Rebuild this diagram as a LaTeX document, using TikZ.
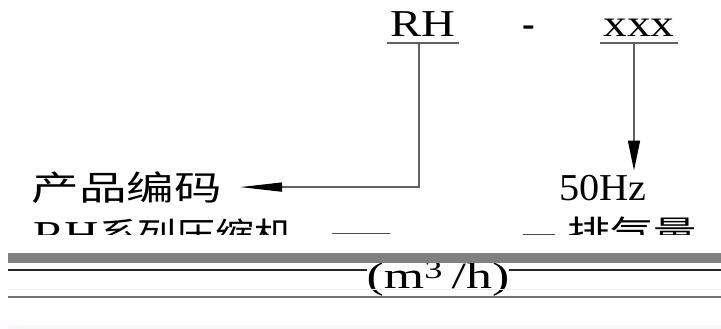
\documentclass[tikz,border=0pt]{standalone}
\usepackage{fontspec}
\setmainfont{Liberation Serif}
\newfontfamily\cjk{Noto Sans CJK SC}
\usepackage{graphicx}
\usetikzlibrary{arrows.meta}
\newcommand{\wide}[2]{\scalebox{#1}[1]{#2}}

\begin{document}
\begin{tikzpicture}[x=1pt,y=-1pt,
	lbl/.style={inner sep=0pt,font=\fontsize{38}{40}\selectfont},
	han/.style={inner sep=0pt,font=\fontsize{34}{36}\selectfont\cjk},
	conn/.style={draw=black!62,line width=1.4pt},
	]
	\useasboundingbox (0,0) rectangle (721,329);
	
	\node (rh) [lbl,anchor=base,minimum width=72pt,text depth=6pt] at (423,37) {\wide{1.23}{RH}};
	\node (dash) [lbl,anchor=base] at (529,37) {\textbf{-}};
	\node (xxx) [lbl,anchor=base,minimum width=78pt,text depth=6pt] at (639,37) {\wide{1.25}{xxx}};
	\draw [conn] (rh.south west) -- (rh.south east);
	\draw [conn] (xxx.south west) -- (xxx.south east);
	
	\node (code) [han,anchor=base east,inner xsep=18pt] at (240,200) {\wide{1.4}{产品编码}};
	\node (hz) [lbl,anchor=base,inner ysep=4pt] at (603,200) {\wide{1.06}{50Hz}};
	\coordinate (drop) at ([xshift=-5pt]xxx.south);
	
	\draw [conn,-{Triangle[length=42pt,width=9pt,color=black]}] ([xshift=-4pt]rh.south) |- (code.east);
	\draw [conn,-{Triangle[length=30pt,width=12pt,color=black]}] (drop) -- (drop |- hz.north);
	
	\begin{scope}
		\clip (0,205) rectangle (721,234);
		\node (series) [lbl,anchor=base west] at (33,247) {\wide{1.25}{RH}{\cjk\fontsize{34}{36}\selectfont\wide{1.14}{系列压缩机}}};
		\node (flow) [han,anchor=base west] at (567,245) {\wide{1.27}{排气量}};
	\end{scope}
	\draw [black!70,line width=1pt] (332,233) -- (390,233);
	\draw [black!70,line width=1pt] (523,234) -- (555,234);
	
	\node (unit) [lbl,anchor=base,font=\fontsize{37}{39}\selectfont] at (438,288) {\wide{1.4}{(m\textsuperscript{3}\,/h)}};
	\fill [black!50] (8,252.5) rectangle (721,263);
	\coordinate (l1) at (8,270);
	\coordinate (r1) at (721,270);
	\draw [black!85,line width=1.2pt] (l1) -- (l1 -| unit.west) (unit.east |- r1) -- (r1);
	\draw [black!7,line width=1pt] (8,289) -- (721,289);
	\draw [black!55,line width=2pt] (8,297) -- (721,297);
	\fill [violet!4] (8,325) rectangle (721,329);
\end{tikzpicture}
\end{document}
